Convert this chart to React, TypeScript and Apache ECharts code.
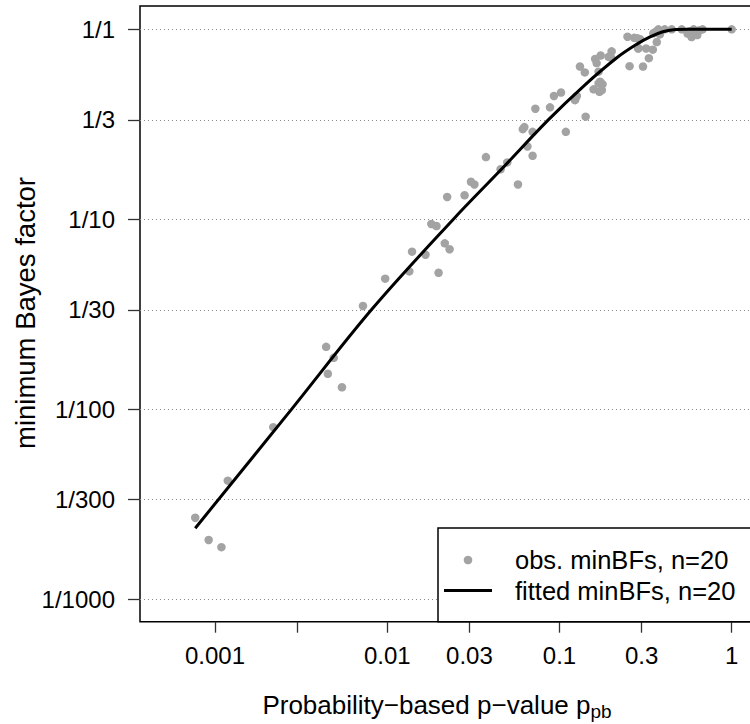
import React, { useEffect, useRef } from "react";
import * as echarts from "echarts";

// observed minimum Bayes factors (p-value, minBF)
const pValues = [
  0.0007674, 0.0009183, 0.001089, 0.001186, 0.002178, 0.004416, 0.004887, 0.004519, 0.005458, 0.007228,
  0.009727, 0.01343, 0.01393, 0.01667, 0.01986, 0.01803, 0.01932, 0.02158, 0.02301, 0.02228,
  0.02812, 0.03062, 0.03206, 0.03741, 0.0455, 0.04977, 0.05741, 0.06124, 0.06252, 0.06516,
  0.06982, 0.06982, 0.07244, 0.0881, 0.0929, 0.1021, 0.1089, 0.123, 0.1262, 0.1315,
  0.1403, 0.1419, 0.1611, 0.1644, 0.1734, 0.1687, 0.1578, 0.1687, 0.1778, 0.1706,
  0.1928, 0.2009, 0.2483, 0.2553, 0.2716, 0.2864, 0.3055, 0.2938, 0.3184, 0.3304,
  0.3483, 0.3673, 0.3631, 0.3828, 0.4083, 0.4487, 0.5129, 0.5546, 0.5848, 0.6166,
  0.6501, 0.6776, 0.6012, 1.0, 0.2831, 0.2871, 0.3508, 0.375, 0.1995, 0.1233,
  0.1722, 0.1762, 0.5689, 0.631,
];
const minBFs = [
  0.002679, 0.002046, 0.001875, 0.004198, 0.008035, 0.02128, 0.01862, 0.01535, 0.01303, 0.03491,
  0.04864, 0.05309, 0.06745, 0.06501, 0.05224, 0.09441, 0.09204, 0.07464, 0.0695, 0.1309,
  0.1337, 0.1574, 0.1524, 0.2123, 0.1832, 0.1991, 0.1524, 0.2979, 0.3055, 0.2415,
  0.2884, 0.2158, 0.3819, 0.3882, 0.4457, 0.4645, 0.2884, 0.4236, 0.4457, 0.6368,
  0.5929, 0.3467, 0.6982, 0.6637, 0.7278, 0.5984, 0.4831, 0.5188, 0.514, 0.4688,
  0.7161, 0.7656, 0.9141, 0.6397, 0.9016, 0.7925, 0.6368, 0.8872, 0.7925, 0.7047,
  0.7816, 0.857, 0.9727, 0.9397, 1.0, 1.0, 1.0, 0.9484, 0.9099, 0.9572,
  0.9886, 1.0, 1.0, 1.0, 0.8974, 0.7943, 0.9528, 1.0, 0.7079, 0.4276,
  0.5297, 0.4786, 0.977, 0.933,
];

// fitted curve
const fitP = [
  0.0007674, 0.002786, 0.008091, 0.02421, 0.04571, 0.0861, 0.1377, 0.2153, 0.2818, 0.3357,
  0.3981, 0.4592, 0.5623, 1.0,
];
const fitBF = [
  0.00236, 0.01, 0.03334, 0.1, 0.182, 0.3334, 0.5012, 0.7079, 0.8356, 0.912,
  0.9705, 0.9954, 1.0, 1.0,
];

const xTickValues = [0.001, 0.003, 0.01, 0.03, 0.1, 0.3, 1];
const xLabelValues = [0.001, 0.01, 0.03, 0.1, 0.3, 1];
const xLabels = ["0.001", "0.01", "0.03", "0.1", "0.3", "1"];
const yTickValues = [0.001, 1 / 300, 0.01, 1 / 30, 0.1, 1 / 3, 1];
const yLabels = ["1/1000", "1/300", "1/100", "1/30", "1/10", "1/3", "1/1"];
const legendLabels = ["obs. minBFs, n=20", "fitted minBFs, n=20"];
const xTitle = "Probability−based p−value p";
const xTitleSub = "pb";
const yTitle = "minimum Bayes factor";

const FONT = "'Liberation Sans', Arial, Helvetica, sans-serif";

function nearestLabel(v: number, vals: number[], labels: string[]) {
  let best = 0;
  let bd = Infinity;
  for (let i = 0; i < vals.length; i++) {
    const d = Math.abs(Math.log10(v) - Math.log10(vals[i]));
    if (d < bd) {
      bd = d;
      best = i;
    }
  }
  return labels[best];
}

export default function App() {
  const ref = useRef<HTMLDivElement>(null);
  useEffect(() => {
    if (!ref.current) return;
    const chart = echarts.init(ref.current, undefined, { renderer: "svg" });
    const scatterData = pValues.map((p, i) => [p, minBFs[i]]);
    const fitData = fitP.map((p, i) => [p, fitBF[i]]);
    chart.setOption({
      animation: false,
      backgroundColor: "#ffffff",
      textStyle: { fontFamily: FONT },
      grid: {
        left: 140,
        top: 6,
        width: 614,
        height: 615.7,
        show: true,
        borderColor: "#000",
        borderWidth: 1.5,
        backgroundColor: "transparent",
        containLabel: false,
        outerBoundsMode: "none",
      },
      xAxis: {
        type: "log",
        logBase: 10,
        min: 0.0003667,
        max: 1.3475,
        axisLine: { show: false },
        axisTick: {
          show: true,
          length: 11,
          customValues: xTickValues,
          lineStyle: { color: "#333", width: 1.3 },
        },
        axisLabel: {
          show: true,
          customValues: xLabelValues,
          margin: 22,
          fontSize: 24,
          color: "#000",
          fontFamily: FONT,
          formatter: (v: number) => nearestLabel(v, xLabelValues, xLabels),
        },
        splitLine: { show: false },
        minorTick: { show: false },
        minorSplitLine: { show: false },
      },
      yAxis: {
        type: "log",
        logBase: 10,
        min: 0.0007594,
        max: 1.3266,
        axisLine: { show: false },
        axisTick: {
          show: true,
          length: 12,
          customValues: yTickValues,
          lineStyle: { color: "#333", width: 1.3 },
        },
        axisLabel: {
          show: true,
          customValues: yTickValues,
          margin: 25,
          fontSize: 24,
          color: "#000",
          fontFamily: FONT,
          formatter: (v: number) => nearestLabel(v, yTickValues, yLabels),
        },
        splitLine: {
          show: true,
          lineStyle: { color: "#8c8c8c", width: 1, type: [1, 3] },
        },
        minorTick: { show: false },
        minorSplitLine: { show: false },
      },
      series: [
        {
          type: "scatter",
          data: scatterData,
          symbol: "circle",
          symbolSize: 8.5,
          itemStyle: { color: "#a3a3a3", opacity: 1 },
          z: 3,
        },
        {
          type: "line",
          data: fitData,
          showSymbol: false,
          symbol: "none",
          smooth: 0.35,
          lineStyle: { color: "#000", width: 3 },
          z: 4,
        },
      ],
      graphic: [
        {
          type: "rect",
          z: 100,
          shape: { x: 438, y: 528, width: 330, height: 93.7 },
          style: { fill: "#fff", stroke: "#000", lineWidth: 1.5 },
        },
        {
          type: "circle",
          z: 101,
          shape: { cx: 468, cy: 560, r: 4.3 },
          style: { fill: "#a3a3a3" },
        },
        {
          type: "line",
          z: 101,
          shape: { x1: 444, y1: 590.5, x2: 492, y2: 590.5 },
          style: { stroke: "#000", lineWidth: 3 },
        },
        {
          type: "text",
          z: 101,
          x: 515,
          y: 560,
          style: {
            text: legendLabels[0],
            fontSize: 25.5,
            fontFamily: FONT,
            fill: "#000",
            align: "left",
            verticalAlign: "middle",
          },
        },
        {
          type: "text",
          z: 101,
          x: 515,
          y: 590.5,
          style: {
            text: legendLabels[1],
            fontSize: 25.5,
            fontFamily: FONT,
            fill: "#000",
            align: "left",
            verticalAlign: "middle",
          },
        },
        {
          type: "text",
          z: 101,
          x: 437,
          y: 705,
          style: {
            text: "{a|" + xTitle + "}{b|" + xTitleSub + "}",
            rich: {
              a: { fontSize: 26, lineHeight: 31, fontFamily: FONT, fill: "#000" },
              b: { fontSize: 19, verticalAlign: "bottom", fontFamily: FONT, fill: "#000" },
            },
            align: "center",
            verticalAlign: "middle",
          },
        },
        {
          type: "text",
          z: 101,
          x: 25,
          y: 313,
          rotation: Math.PI / 2,
          style: {
            text: yTitle,
            fontSize: 27.5,
            fontFamily: FONT,
            fill: "#000",
            align: "center",
            verticalAlign: "middle",
          },
        },
      ],
    });
    return () => chart.dispose();
  }, []);
  return (
    <div
      ref={ref}
      style={{ position: "absolute", left: 0, top: 0, width: 750, height: 724, background: "#fff" }}
    />
  );
}
